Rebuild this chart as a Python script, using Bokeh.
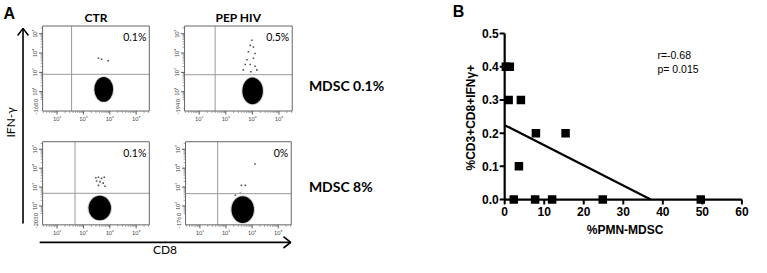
import numpy as np
from bokeh.plotting import figure
from bokeh.models import Range1d
from bokeh.core.properties import value
from bokeh.embed import file_html
from bokeh.resources import INLINE

# ---------------- data : panel B ----------------
pmn_mdsc = [0.3, 1.3, 1.0, 4.1, 7.9, 15.4, 3.6, 2.3, 7.7, 12.0, 24.8, 49.6]
cd8_ifng = [0.4, 0.4, 0.3, 0.3, 0.2, 0.2, 0.1, 0.0, 0.0, 0.0, 0.0, 0.0]
b_xticks = [0, 10, 20, 30, 40, 50, 60]
b_yticks = [0.0, 0.1, 0.2, 0.3, 0.4, 0.5]
b_ytick_labels = ["0.0", "0.1", "0.2", "0.3", "0.4", "0.5"]
b_xlabel = "%PMN-MDSC"
b_ylabel = "%CD3+CD8+IFNγ+"
b_stats = ["r=-0.68", "p= 0.015"]

# ---------------- data : panel A ----------------
col_titles = ["CTR", "PEP HIV"]
row_labels = ["MDSC 0.1%", "MDSC 8%"]
flow_pct = ["0.1%", "0.5%", "0.1%", "0%"]
flow_neg = ["-168", "-194", "-203", "-176"]
decade_ticks = [2, 3, 4, 5]
decade_labels = ["10²", "10³", "10⁴", "10⁵"]
cloud_x = [3.77, 4.01, 3.62, 3.64]
cloud_y = [2.12, 2.04, 1.89, 1.81]
cloud_w = [0.71, 0.77, 0.85, 0.86]
cloud_h = [1.29, 1.38, 1.29, 1.42]
gate_x = [2.55, 2.60, 2.68, 2.68]
gate_y = [2.90, 2.88, 2.67, 2.65]
tl_ev_x = [3.57, 3.69, 3.94]
tl_ev_y = [3.73, 3.68, 3.60]
tr_ev_x = [3.98, 3.92, 4.04, 3.85, 4.10, 3.80, 4.04, 3.92, 4.10, 3.73, 4.17, 3.66, 3.95]
tr_ev_y = [4.66, 4.40, 4.31, 4.07, 3.98, 3.65, 3.73, 3.41, 3.32, 3.41, 3.13, 3.13, 3.03]
bl_ev_x = [3.47, 3.57, 3.69, 3.79, 3.50, 3.63, 3.75, 3.57, 3.82]
bl_ev_y = [3.49, 3.52, 3.46, 3.52, 3.32, 3.29, 3.21, 3.09, 3.04]
br_ev_x = [4.11, 3.59, 3.74, 3.36, 3.55]
br_ev_y = [4.22, 3.09, 3.09, 2.57, 2.67]

# ---------------- layout helpers ----------------
W, H = 751, 257
KX, KY = 0.979, 256 / 271


def LX(rx):
    return rx * KX


def LY(ry):
    return ry * KY


def xr(dlo, dhi, plo, phi):
    u = (dhi - dlo) / (phi - plo)
    s = dlo - plo * u
    return Range1d(s, s + W * u), u


def yr(dlo, dhi, pbot, ptop):
    u = (dhi - dlo) / (pbot - ptop)
    s = dlo - (H - pbot) * u
    return Range1d(s, s + H * u), u


FLOW_X = (1.45, 5.5)
FLOW_Y = (1.0, 5.4)
boxes = [(43, 152, 27, 117), (188, 298, 27, 117), (43, 152, 149.5, 237.5), (189, 297, 149.5, 237.5)]

ex, ey, ux, uy = {}, {}, {}, {}
for i, (l, r, t, b) in enumerate(boxes):
    ex[f"fx{i}"], ux[i] = xr(FLOW_X[0], FLOW_X[1], LX(l), LX(r))
    ey[f"fy{i}"], uy[i] = yr(FLOW_Y[0], FLOW_Y[1], LY(b), LY(t))
ex["bx"], bux = xr(b_xticks[0], b_xticks[-1], LX(515), LX(757.3))
ey["by"], buy = yr(b_yticks[0], b_yticks[-1], LY(210.7), LY(35))

p = figure(width=W, height=H, x_range=Range1d(0, W), y_range=Range1d(H, 0),
           output_backend="svg", toolbar_location=None,
           x_axis_location=None, y_axis_location=None,
           min_border=0, outline_line_color=None, background_fill_color="white")
p.grid.visible = False
p.extra_x_ranges = ex
p.extra_y_ranges = ey

CAL = value("Lato")
ARB = value("Liberation Sans")

# ---------------- panel A ----------------
p.text(x=[LX(3)], y=[LY(14)], text=["A"], text_font=ARB, text_font_style="bold",
       text_font_size="16px", text_baseline="middle", text_align="left", text_color="black")

for j, ttl in enumerate(col_titles):
    l, r, t, b = boxes[j]
    p.text(x=[LX((l + r) / 2)], y=[LY(t - 1)], text=[ttl], text_font=CAL, text_font_style="bold",
           text_font_size="12px", text_align="center", text_baseline="bottom", text_color="black")

row_label_y = [89.5, 197]
for j, lab in enumerate(row_labels):
    p.text(x=[LX(315)], y=[LY(row_label_y[j])], text=[lab], text_font=CAL,
           text_font_style="bold", text_font_size="14px", text_align="left",
           text_baseline="middle", text_color="black")

# axis arrows
p.line(x=[LX(23), LX(23)], y=[LY(236), LY(29.5)], line_color="black", line_width=1.6)
p.line(x=[LX(17.5), LX(23), LX(28.5)], y=[LY(37), LY(29.5), LY(37)], line_color="black", line_width=1.6)
p.line(x=[LX(40), LX(296.5)], y=[LY(256), LY(256)], line_color="black", line_width=1.6)
p.line(x=[LX(289), LX(296.5), LX(289)], y=[LY(250), LY(256), LY(262)], line_color="black", line_width=1.6)
p.text(x=[LX(10)], y=[LY(129)], text=["IFN-γ"], angle=np.pi / 2, text_font=CAL, text_font_size="12px",
       text_align="center", text_baseline="middle", text_color="black")
p.text(x=[LX(168)], y=[LY(264)], text=["CD8"], text_font=CAL, text_font_size="12px",
       text_align="center", text_baseline="middle", text_color="black")

events = [(tl_ev_x, tl_ev_y), (tr_ev_x, tr_ev_y), (bl_ev_x, bl_ev_y), (br_ev_x, br_ev_y)]
minor = [np.log10(k) + d for d in range(1, 6) for k in range(2, 10)]
minor_x = [m for m in minor if FLOW_X[0] < m < FLOW_X[1]]
minor_y = [m for m in minor if 1.6 < m < FLOW_Y[1]]

for i in range(4):
    kw = dict(x_range_name=f"fx{i}", y_range_name=f"fy{i}")
    x0, x1 = FLOW_X
    y0, y1 = FLOW_Y
    # cloud
    p.ellipse(x=[cloud_x[i]], y=[cloud_y[i]], width=[cloud_w[i] * 1.1], height=[cloud_h[i] * 1.06],
              fill_color="black", fill_alpha=0.18, line_color=None, **kw)
    p.ellipse(x=[cloud_x[i]], y=[cloud_y[i]], width=[cloud_w[i]], height=[cloud_h[i]],
              fill_color="black", line_color=None, **kw)
    exs, eys = events[i]
    p.scatter(x=exs, y=eys, size=1.6, marker="square", fill_color="#555", line_color=None, **kw)
    # gates
    p.segment(x0=[gate_x[i], x0], y0=[y0, gate_y[i]], x1=[gate_x[i], x1], y1=[y1, gate_y[i]],
              line_color="#9a9a9a", line_width=1, **kw)
    # frame
    p.quad(left=[x0], right=[x1], bottom=[y0], top=[y1], fill_color=None,
           line_color="#666666", line_width=1, **kw)
    # ticks
    tlx = 3.5 * uy[i]
    tly = 3.5 * ux[i]
    p.segment(x0=decade_ticks, y0=[y0] * 4, x1=decade_ticks, y1=[y0 - tlx] * 4,
              line_color="#555", line_width=1, **kw)
    p.segment(x0=minor_x, y0=[y0] * len(minor_x), x1=minor_x, y1=[y0 - tlx * 0.55] * len(minor_x),
              line_color="#777", line_width=0.7, **kw)
    p.segment(x0=[x0] * 4, y0=decade_ticks, x1=[x0 - tly] * 4, y1=decade_ticks,
              line_color="#555", line_width=1, **kw)
    p.segment(x0=[x0] * len(minor_y), y0=minor_y, x1=[x0 - tly * 0.55] * len(minor_y), y1=minor_y,
              line_color="#777", line_width=0.7, **kw)
    p.text(x=decade_ticks, y=[y0] * 4, text=decade_labels, y_offset=5, text_font=CAL,
           text_font_size="5.5px", text_align="center", text_baseline="top", text_color="#444", **kw)
    p.text(x=[x0] * 6, y=decade_ticks + [1.55, 1.12], text=decade_labels + ["0", flow_neg[i]],
           x_offset=-5, angle=np.pi / 2, text_font=CAL, text_font_size="5.5px",
           text_align="center", text_baseline="bottom", text_color="#444", **kw)
    p.text(x=[x1], y=[y1], text=[flow_pct[i]], x_offset=-3, y_offset=5, text_font=CAL,
           text_font_size="10.5px", text_align="right", text_baseline="top", text_color="black", **kw)

# ---------------- panel B ----------------
kb = dict(x_range_name="bx", y_range_name="by")
p.text(x=[LX(462)], y=[LY(12)], text=["B"], text_font=ARB, text_font_style="bold",
       text_font_size="16px", text_baseline="middle", text_align="left", text_color="black")

slope, icpt = np.polyfit(pmn_mdsc, cd8_ifng, 1)
x_end = -icpt / slope
p.line(x=[b_xticks[0], x_end], y=[icpt, b_yticks[0]], line_color="black", line_width=2.2, **kb)

p.segment(x0=[b_xticks[0], b_xticks[0]], y0=[b_yticks[0], b_yticks[0]],
          x1=[b_xticks[-1], b_xticks[0]], y1=[b_yticks[0], b_yticks[-1]],
          line_color="black", line_width=2.2, **kb)
p.segment(x0=b_xticks, y0=[0] * len(b_xticks), x1=b_xticks, y1=[-5 * buy] * len(b_xticks),
          line_color="black", line_width=2, **kb)
p.segment(x0=[0] * len(b_yticks), y0=b_yticks, x1=[-5 * bux] * len(b_yticks), y1=b_yticks,
          line_color="black", line_width=2, **kb)
p.text(x=b_xticks, y=[0] * len(b_xticks), text=[str(t) for t in b_xticks], y_offset=7,
       text_font=ARB, text_font_style="bold", text_font_size="12px", text_align="center",
       text_baseline="top", text_color="black", **kb)
p.text(x=[0] * len(b_yticks), y=b_yticks, text=b_ytick_labels, x_offset=-6,
       text_font=ARB, text_font_style="bold", text_font_size="12px", text_align="right",
       text_baseline="middle", text_color="black", **kb)

p.scatter(x=pmn_mdsc, y=cd8_ifng, marker="square", size=8.5, fill_color="black",
          line_color=None, **kb)

p.text(x=[LX(638)], y=[LY(243)], text=[b_xlabel], text_font=ARB, text_font_style="bold",
       text_font_size="12px", text_align="center", text_baseline="middle", text_color="black")
p.text(x=[LX(481)], y=[LY(124)], text=[b_ylabel], angle=np.pi / 2, text_font=ARB,
       text_font_style="bold", text_font_size="12px", text_align="center",
       text_baseline="middle", text_color="black")
p.text(x=[LX(671)] * 2, y=[LY(57.5), LY(72)], text=b_stats, text_font=ARB,
       text_font_size="10.5px", text_align="left", text_baseline="middle", text_color="black")

open("out.html", "w").write(file_html(p, INLINE))
